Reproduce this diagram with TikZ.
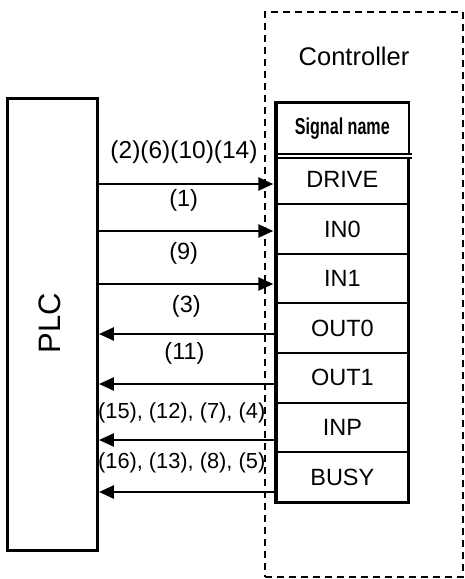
\documentclass[tikz,border=0pt]{standalone}
\usepackage{fontspec}
\setmainfont{Liberation Sans}
\newfontfamily\narrowfont[FakeStretch=0.70]{Liberation Sans}
\usetikzlibrary{arrows.meta, positioning}

\begin{document}
\begin{tikzpicture}[
    x=1pt,
    y=-1pt,
    plcbox/.style={rectangle, draw=black, line width=3.3pt, minimum width=89.6pt, minimum height=451.5pt, inner sep=0pt},
    ctrlbox/.style={rectangle, draw=black, line width=1.8pt, dash pattern=on 7pt off 5pt, minimum width=198pt, minimum height=565pt, inner sep=0pt},
    sigrow/.style={rectangle, draw=black, line width=2pt, minimum width=130.7pt, minimum height=49.57pt, inner sep=0pt, font=\fontsize{23.5}{28}\selectfont},
    sig/.style={line width=2.5pt, -{Triangle[length=15pt, width=13pt]}},
    lbl/.style={inner sep=0pt, font=\fontsize{23.5}{28}\selectfont}
]
\useasboundingbox (0,0) rectangle (464,579);

% Controller frame and PLC
\node [ctrlbox] (ctrl) at (364.3, 294.3) {};
\node [font=\fontsize{25.5}{30}\selectfont] (ctrlname) at (354, 56) {Controller};
\node [plcbox] (plc) at (52.5, 324.45) {};
\node [rotate=90, font=\fontsize{31}{36}\selectfont] (plcname) at (50, 323) {PLC};

% Signal table
\node [sigrow, draw=none, minimum height=51.2pt, font=\narrowfont\bfseries\fontsize{23}{28}\selectfont] (head) at (342.35, 129.1) {Signal name};
\foreach \name [count=\i] in {DRIVE, IN0, IN1, OUT0, OUT1, INP, BUSY} {
    \node [sigrow] (row\i) at (342.35, {154.7 + (\i - 0.5)*49.57}) {\name};
}
\draw [line width=2.2pt] (head.north east) -- (row7.south east);
\draw [double, double distance=2pt, line width=2pt] (head.south west) -- ([xshift=3.3pt]head.south east);
\draw [line width=3.3pt, line cap=rect] (head.north east) -- (head.north west) -- (row7.south west) -- (row7.south east);

% Inputs to the controller
\coordinate (in1) at (273.3, 184);
\coordinate (in2) at (273.3, 231);
\coordinate (in3) at (273.3, 284);
\foreach \i in {1,2,3} {
    \draw [sig] (plc.east |- in\i) -- (in\i);
}

% Outputs to the PLC
\coordinate (out4) at (row4.west |- 0,334);
\coordinate (out5) at (row5.west |- 0,384);
\coordinate (out6) at (row6.west |- 0,440);
\coordinate (out7) at (row7.west |- 0,492);
\foreach \i in {4,5,6,7} {
    \draw [sig] (out\i) -- (plc.east |- out\i);
}

% Step numbers
\node [lbl, font=\fontsize{24.5}{28}\selectfont] (step1) at (184, 152) {(2)(6)(10)(14)};
\node [lbl] (step2) at (183.7, 200.3) {(1)};
\node [lbl] (step3) at (183.7, 253) {(9)};
\node [lbl] (step4) at (186.3, 306.7) {(3)};
\node [lbl] (step5) at (184.5, 353.5) {(11)};
\node [lbl, font=\fontsize{21.8}{26}\selectfont] (step6) at (181.7, 413) {(15), (12), (7), (4)};
\node [lbl, font=\fontsize{21.8}{26}\selectfont] (step7) at (181.7, 463) {(16), (13), (8), (5)};

\end{tikzpicture}
\end{document}
